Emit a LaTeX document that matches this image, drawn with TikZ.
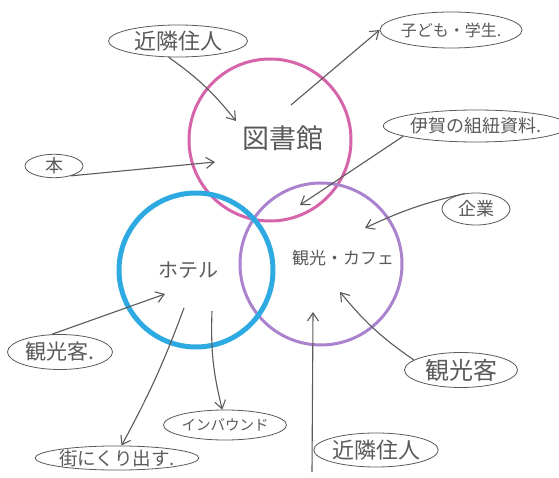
\documentclass[tikz,border=0pt]{standalone}
\usepackage{fontspec}
\setmainfont{Noto Sans CJK JP}
\usetikzlibrary{shapes.geometric,arrows.meta}
\definecolor{pencil}{RGB}{90,90,90}
\definecolor{pinkc}{RGB}{214,100,170}
\definecolor{bluec}{RGB}{45,170,225}
\definecolor{purpc}{RGB}{170,130,205}
\begin{document}
\begin{tikzpicture}[x=1pt,y=-1pt,
  bub/.style={draw=pencil, ellipse, line width=0.8pt, inner sep=0pt, text=pencil},
  lbl/.style={text=pencil, inner sep=0pt},
  arr/.style={draw=pencil, line width=1.1pt, -{Straight Barb[length=8pt,width=11pt]}},
  ring/.style={circle, line width=3pt, inner sep=0pt}]
\useasboundingbox[fill=white] (0,0) rectangle (559,478);
% circles
\node[ring, draw=pinkc, minimum size=162pt] (lib) at (270,140) {};
\node[ring, draw=purpc, minimum size=162pt] (cafe) at (321,264) {};
\node[ring, draw=bluec, line width=5pt, minimum size=154pt] (hotel) at (196,270) {};
% circle labels
\node[lbl, font=\fontsize{27}{27}\selectfont] (tlib) at (283,138) {図書館};
\node[lbl, font=\fontsize{20}{20}\selectfont] (thot) at (188,270) {ホテル};
\node[lbl, font=\fontsize{17}{17}\selectfont] (tcaf) at (343,258) {観光・カフェ};
% bubbles
\node[bub, minimum width=139pt, minimum height=32pt, font=\fontsize{22}{22}\selectfont] (kin1) at (178,41) {近隣住人};
\node[bub, minimum width=132pt, minimum height=36pt, font=\fontsize{16}{16}\selectfont] (kodo) at (451,30) {子ども・学生.};
\node[bub, minimum width=163pt, minimum height=32pt, font=\fontsize{18}{18}\selectfont] (iga) at (476,126) {伊賀の組紐資料.};
\node[bub, minimum width=68pt, minimum height=32pt, font=\fontsize{18}{18}\selectfont] (kigyo) at (476,209) {企業};
\node[bub, minimum width=58pt, minimum height=22pt, font=\fontsize{18}{18}\selectfont] (hon) at (54,166) {本};
\node[bub, minimum width=105pt, minimum height=35pt, font=\fontsize{21}{21}\selectfont] (kan1) at (60,352) {観光客.};
\node[bub, minimum width=113pt, minimum height=35pt, font=\fontsize{24}{24}\selectfont] (kan2) at (461,370) {観光客};
\node[bub, minimum width=106pt, minimum height=30pt, font=\fontsize{14.5}{14.5}\selectfont] (inb) at (225,425) {インバウンド};
\node[bub, minimum width=139pt, minimum height=24pt, font=\fontsize{18.5}{18.5}\selectfont] (machi) at (117,458) {街にくり出す.};
\node[bub, minimum width=123pt, minimum height=34pt, font=\fontsize{22}{22}\selectfont] (kin2) at (376,450) {近隣住人};
% free ends
\coordinate (a1) at (236,121);
\coordinate (s2) at (291,105);
\coordinate (a3) at (300,205);
\coordinate (a4) at (215,162);
\coordinate (a5) at (365,228);
\coordinate (a6) at (165,294);
\coordinate (s7) at (184,308);
\coordinate (s8) at (212,311);
\coordinate (s9) at (312,472);
\coordinate (a9) at (313,312);
\coordinate (a10) at (340,292);
% arrows
\draw[arr] (kin1.240) to[bend left=8] (a1);
\draw[arr] (s2) -- (kodo.west);
\draw[arr] (iga.188) -- (a3);
\draw[arr] (hon.330) -- (a4);
\draw[arr] (kigyo.125) to[bend right=6] (a5);
\draw[arr] (kan1.115) -- (a6);
\draw[arr] (s7) to[bend left=4] (machi.70);
\draw[arr] (s8) to[bend right=8] (inb.100);
\draw[arr] (s9) -- (a9);
\draw[arr] (kan2.168) to[bend left=8] (a10);
\end{tikzpicture}
\end{document}
